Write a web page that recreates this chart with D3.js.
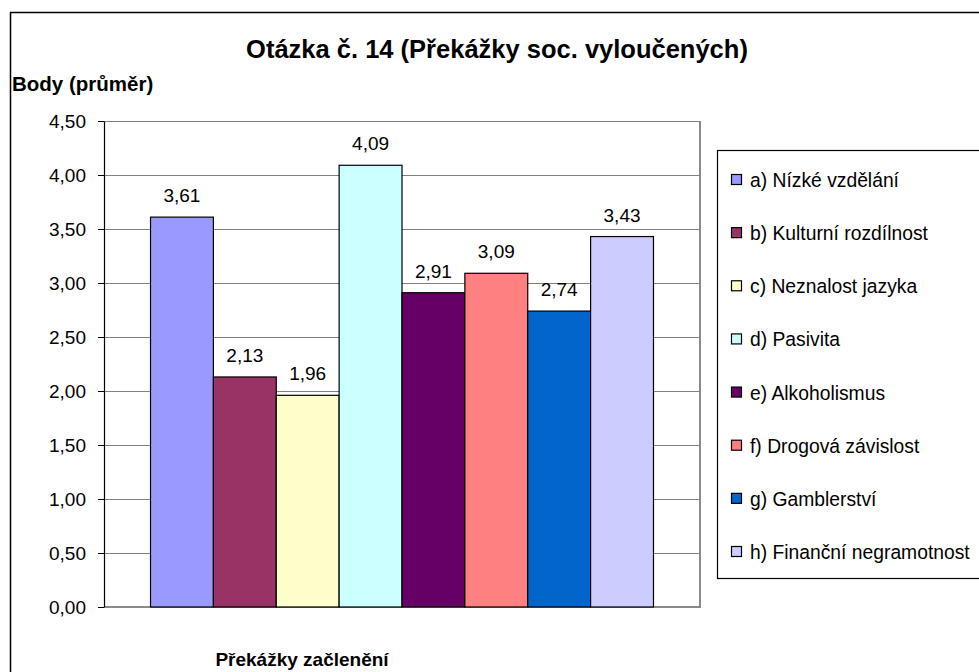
<!DOCTYPE html>
<html>
<head>
<meta charset="utf-8">
<script src="https://cdn.jsdelivr.net/npm/d3@7"></script>
<style>
  body { margin: 0; background: #fff; }
  svg { display: block; font-family: "Liberation Sans", Arial, sans-serif; }
</style>
</head>
<body>
<div id="chart"></div>
<script>
const categories = ["Překážky začlenění"];
const seriesNames = [
  "a) Nízké vzdělání",
  "b) Kulturní rozdílnost",
  "c) Neznalost jazyka",
  "d) Pasivita",
  "e) Alkoholismus",
  "f) Drogová závislost",
  "g) Gamblerství",
  "h) Finanční negramotnost"
];
const seriesValues = [3.61, 2.13, 1.96, 4.09, 2.91, 3.09, 2.74, 3.43];
const seriesColors = ["#9999ff", "#993366", "#ffffcc", "#ccffff", "#660066", "#ff8080", "#0066cc", "#ccccff"];
const yTicks = [0, 0.5, 1, 1.5, 2, 2.5, 3, 3.5, 4, 4.5];

const width = 979, height = 672;
const plot = { left: 104, right: 700, top: 121, bottom: 607 };

const cz = d3.formatLocale({ decimal: ",", thousands: " ", grouping: [3], currency: ["", " Kč"] });
const fmt = cz.format(".2f");

const svg = d3.select("#chart")
  .append("svg")
  .attr("width", width)
  .attr("height", height);

// chart frame (runs off the right and bottom edge)
svg.append("rect")
  .attr("x", 10.5).attr("y", 12.5)
  .attr("width", 1000).attr("height", 700)
  .attr("fill", "#fff")
  .attr("stroke", "#000")
  .attr("stroke-width", 1.5);

const x0 = d3.scaleBand()
  .domain(categories)
  .range([plot.left, plot.right])
  .paddingInner(0)
  .paddingOuter(0.0925);

const x1 = d3.scaleBand()
  .domain(seriesNames)
  .range([0, x0.bandwidth()]);

const y = d3.scaleLinear()
  .domain([0, 4.5])
  .range([plot.bottom, plot.top]);

// gridlines
svg.append("g")
  .attr("transform", "translate(" + plot.left + ",0)")
  .call(d3.axisLeft(y).tickValues(yTicks).tickSize(-(plot.right - plot.left)).tickFormat(""))
  .call(g => g.select(".domain").remove())
  .call(g => g.selectAll("line").attr("stroke", "#808080").attr("shape-rendering", "crispEdges"));

// plot area right / bottom border
svg.append("path")
  .attr("d", "M" + plot.right + "," + plot.top + "V" + plot.bottom + "H" + plot.left)
  .attr("fill", "none")
  .attr("stroke", "#8a8a8a")
  .attr("stroke-width", 2);

// bars
const bars = svg.append("g");
bars.selectAll("rect")
  .data(seriesValues)
  .enter()
  .append("rect")
  .attr("x", (d, i) => x0(categories[0]) + x1(seriesNames[i]))
  .attr("y", d => y(d))
  .attr("width", x1.bandwidth())
  .attr("height", d => y(0) - y(d))
  .attr("fill", (d, i) => seriesColors[i])
  .attr("stroke", "#000")
  .attr("stroke-width", 1.2);

// value labels
bars.selectAll("text")
  .data(seriesValues)
  .enter()
  .append("text")
  .attr("x", (d, i) => x0(categories[0]) + x1(seriesNames[i]) + x1.bandwidth() / 2)
  .attr("y", d => y(d) - 15)
  .attr("text-anchor", "middle")
  .attr("font-size", 19)
  .attr("fill", "#000")
  .text(d => fmt(d));

// y axis
svg.append("g")
  .attr("transform", "translate(" + plot.left + ",0)")
  .call(d3.axisLeft(y).tickValues(yTicks).tickSize(6).tickSizeOuter(0).tickPadding(12).tickFormat(fmt))
  .call(g => g.select(".domain").attr("stroke", "#000").attr("stroke-width", 1.2))
  .call(g => g.selectAll("line").attr("stroke", "#000"))
  .call(g => g.selectAll("text").attr("font-size", 19).attr("font-family", "Liberation Sans, Arial, sans-serif").attr("fill", "#000"));

// titles
svg.append("text")
  .attr("x", 497).attr("y", 58)
  .attr("text-anchor", "middle")
  .attr("font-size", 25.5)
  .attr("font-weight", "bold")
  .text("Otázka č. 14 (Překážky soc. vyloučených)");

svg.append("text")
  .attr("x", 12).attr("y", 91)
  .attr("font-size", 20.5)
  .attr("font-weight", "bold")
  .text("Body (průměr)");

svg.append("text")
  .attr("x", x0(categories[0]) + x0.bandwidth() / 2 - 100).attr("y", 666)
  .attr("text-anchor", "middle")
  .attr("font-size", 19)
  .attr("font-weight", "bold")
  .text(categories[0]);

// legend
const legend = svg.append("g");
legend.append("rect")
  .attr("x", 717.5).attr("y", 150.5)
  .attr("width", 300).attr("height", 428)
  .attr("fill", "#fff")
  .attr("stroke", "#000")
  .attr("stroke-width", 1.2);

const ly = d3.scalePoint()
  .domain(seriesNames)
  .range([180, 552]);

const items = legend.selectAll("g.item")
  .data(seriesNames)
  .enter()
  .append("g")
  .attr("class", "item")
  .attr("transform", d => "translate(731," + ly(d) + ")");

items.append("rect")
  .attr("x", 0.5).attr("y", -5.5)
  .attr("width", 10).attr("height", 10)
  .attr("fill", (d, i) => seriesColors[i])
  .attr("stroke", "#000")
  .attr("stroke-width", 1.2);

items.append("text")
  .attr("x", 19).attr("y", 7)
  .attr("font-size", 19.3)
  .text(d => d);
</script>
</body>
</html>
